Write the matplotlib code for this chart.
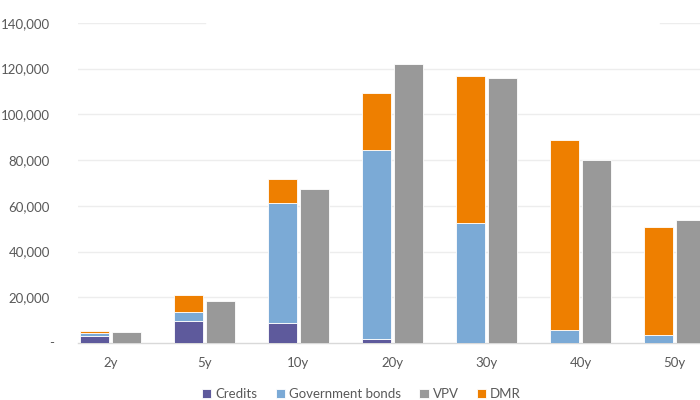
import matplotlib

matplotlib.use("Agg")
import matplotlib.pyplot as plt
import matplotlib.transforms as mtransforms
import numpy as np
from matplotlib.ticker import FuncFormatter, MultipleLocator

plt.rcParams["font.family"] = ["Lato", "DejaVu Sans"]

tenors = ["2y", "5y", "10y", "20y", "30y", "40y", "50y"]
credits = [3000, 9800, 8900, 1600, 0, 0, 0]
gov_bonds = [1200, 3900, 52200, 82800, 52400, 5800, 3500]
dmr = [1000, 7400, 10400, 24800, 64500, 83100, 47100]
vpv = [4900, 18500, 67200, 122200, 115800, 80100, 53800]

C_CREDITS = "#5E5A9C"
C_GOV = "#7BAAD6"
C_VPV = "#999999"
C_DMR = "#EE7F00"
GRID = "#EDEDED"
TEXT = "#595959"

x = np.arange(len(tenors))
width = 0.31
offset = 0.17

fig = plt.figure(figsize=(7, 4), dpi=100)
ax = fig.add_axes([0.111, 0.1425, 0.889, 0.8005])

credits = np.array(credits)
gov_bonds = np.array(gov_bonds)
dmr = np.array(dmr)

edge = dict(edgecolor="white", linewidth=0.6)
ax.bar(x - offset, credits, width, color=C_CREDITS, label="Credits", **edge, zorder=3)
ax.bar(x - offset, gov_bonds, width, bottom=credits, color=C_GOV,
       label="Government bonds", **edge, zorder=3)
ax.bar(x + offset, vpv, width, color=C_VPV, label="VPV", **edge, zorder=3)
ax.bar(x - offset, dmr, width, bottom=credits + gov_bonds, color=C_DMR,
       label="DMR", **edge, zorder=3)

ax.set_ylim(0, 140000)
ax.set_xlim(-0.346, 6.27)
ax.yaxis.set_major_locator(MultipleLocator(20000))
ax.yaxis.set_major_formatter(
    FuncFormatter(lambda v, _: "" if v == 0 else f"{v:,.0f}"))

# accounting-style dash for zero, sitting left of the other labels
trans = mtransforms.blended_transform_factory(ax.transAxes, ax.transData)
ax.text(-0.042, 0, "-", transform=trans, ha="center", va="center",
        color=TEXT, fontsize=9.5)

# gridlines; the top one is partly hidden behind the title area
for val in range(20000, 140000, 20000):
    ax.axhline(val, color=GRID, linewidth=1, zorder=0)
ax.axhline(140000, xmin=0, xmax=0.205, color=GRID, linewidth=1, zorder=0)
ax.axhline(140000, xmin=0.935, xmax=1, color=GRID, linewidth=1, zorder=0)

ax.set_xticks(x)
ax.set_xticklabels(tenors)
ax.tick_params(axis="both", length=0, colors=TEXT, labelsize=9.5)
ax.tick_params(axis="y", pad=20)
ax.tick_params(axis="x", pad=10)

for side in ["top", "right", "left"]:
    ax.spines[side].set_visible(False)
ax.spines["bottom"].set_color("#D9D9D9")
ax.spines["bottom"].set_linewidth(1)

ax.legend(loc="center", bbox_to_anchor=(0.456, -0.16), ncol=4, frameon=False,
          fontsize=9.5, handlelength=0.7, handleheight=0.7, handletextpad=0.3,
          columnspacing=1.4, labelcolor=TEXT)

fig.savefig("out.png", dpi=100)
